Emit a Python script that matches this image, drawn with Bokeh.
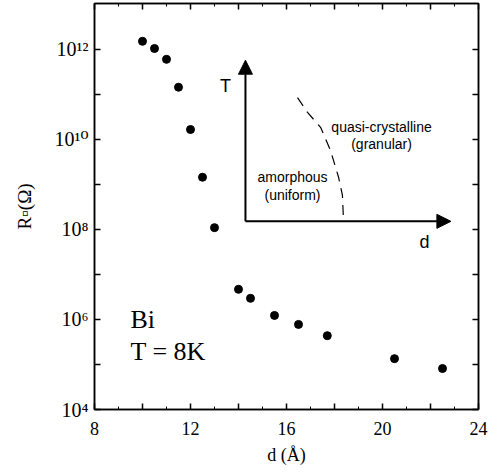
from bokeh.plotting import figure
from bokeh.models import (FixedTicker, LinearAxis, LogAxis, Label, Arrow, NormalHead,
                          ColumnDataSource)
from bokeh.embed import file_html
from bokeh.resources import INLINE

# ---- data: thickness d (Angstrom) and sheet resistance R (Ohm) at T = 8 K ----
d_values = [10.0, 10.5, 11.0, 11.5, 12.0, 12.5, 13.0, 14.0, 14.5, 15.5, 16.5, 17.7, 20.5, 22.5]
logR_values = [12.18, 12.02, 11.78, 11.16, 10.22, 9.16, 8.04, 6.67, 6.47, 6.09, 5.89, 5.64, 5.13, 4.91]
R_values = [10 ** v for v in logR_values]

x_major = [8, 10, 12, 14, 16, 18, 20, 22, 24]
x_minor = [9, 11, 13, 15, 17, 19, 21, 23]
x_labels = {8: "8", 12: "12", 16: "16", 20: "20", 24: "24"}
y_exps = [4, 5, 6, 7, 8, 9, 10, 11, 12]
y_label_exps = {4: "10⁴", 6: "10⁶", 8: "10⁸", 10: "10¹⁰", 12: "10¹²"}

# inset schematic (phase diagram sketch), in chart data units
inset_origin = (14.29, 10 ** 8.18)
inset_T_tip = (14.29, 10 ** 11.76)
inset_d_tip = (22.85, 10 ** 8.18)
boundary_x = [16.46, 16.875, 17.42, 17.83, 18.17, 18.33, 18.375]
boundary_logy = [10.93, 10.6, 10.27, 9.76, 9.16, 8.76, 8.2]

SERIF = "Liberation Serif"
SERIF_SUP = "Liberation Serif, DejaVu Serif"
SANS = "Liberation Sans"

p = figure(width=500, height=474, y_axis_type="log",
           x_range=(8, 24), y_range=(1e4, 10 ** 13.02),
           output_backend="svg", toolbar_location=None,
           min_border_left=94, min_border_right=22, min_border_top=3, min_border_bottom=65)
p.xgrid.visible = False
p.ygrid.visible = False
p.outline_line_color = "black"
p.outline_line_width = 1.5
p.background_fill_color = "white"
p.border_fill_color = "white"

xt = FixedTicker(ticks=x_major, minor_ticks=x_minor)
yt = FixedTicker(ticks=[10 ** e for e in y_exps], minor_ticks=[])

def style_axis(ax):
    ax.axis_line_color = "black"
    ax.axis_line_width = 1.5
    ax.major_tick_in = 6
    ax.major_tick_out = 0
    ax.minor_tick_in = 3
    ax.minor_tick_out = 0
    ax.major_tick_line_width = 1.5
    ax.minor_tick_line_width = 1
    ax.major_tick_line_color = "black"
    ax.minor_tick_line_color = "black"
    ax.major_label_text_font = SERIF
    ax.major_label_text_font_size = "18px"
    ax.major_label_text_color = "black"

xa = p.xaxis[0]
xa.ticker = xt
xa.major_label_overrides = {v: x_labels.get(v, "") for v in x_major}
style_axis(xa)
xa.major_label_standoff = 12
xa.axis_label = "d (Å)"
xa.axis_label_text_font = SERIF
xa.axis_label_text_font_size = "18px"
xa.axis_label_text_font_style = "normal"
xa.axis_label_text_color = "black"
xa.axis_label_standoff = 7

ya = p.yaxis[0]
ya.ticker = yt
ya.major_label_overrides = {10 ** e: y_label_exps.get(e, "") for e in y_exps}
style_axis(ya)
ya.major_label_text_font = SERIF_SUP
ya.major_label_text_font_size = "20px"
ya.major_label_standoff = 6
ya.axis_label = "R▫(Ω)"
ya.axis_label_text_font = SERIF_SUP
ya.axis_label_text_font_size = "19px"
ya.axis_label_text_font_style = "normal"
ya.axis_label_text_color = "black"
ya.axis_label_standoff = 16

top = LinearAxis(ticker=xt)
style_axis(top)
top.major_label_overrides = {v: "" for v in x_major}
top.major_label_standoff = 0
p.add_layout(top, "above")
right = LogAxis(ticker=yt)
style_axis(right)
right.major_label_overrides = {10 ** e: "" for e in y_exps}
right.major_label_standoff = 0
p.add_layout(right, "right")

# data points
src = ColumnDataSource(dict(d=d_values, R=R_values))
p.scatter("d", "R", source=src, size=8, color="black")

# text block
p.add_layout(Label(x=9.5, y=10 ** 6.0, text="Bi", text_font=SERIF,
                   text_font_size="26px", text_baseline="alphabetic", text_color="black"))
p.add_layout(Label(x=9.5, y=10 ** 5.28, text="T = 8K", text_font=SERIF,
                   text_font_size="26px", text_baseline="alphabetic", text_color="black"))

# inset schematic
for tip in (inset_T_tip, inset_d_tip):
    p.add_layout(Arrow(end=NormalHead(size=14, fill_color="black", line_color="black"),
                       x_start=inset_origin[0], y_start=inset_origin[1],
                       x_end=tip[0], y_end=tip[1], line_width=2, line_color="black"))
p.line(boundary_x, [10 ** v for v in boundary_logy], line_dash="10 7", line_width=1.2,
       line_color="black")

def sans_label(x, ly, text, size, align="center"):
    p.add_layout(Label(x=x, y=10 ** ly, text=text, text_font=SANS,
                       text_font_size=size, text_align=align, text_baseline="middle",
                       text_color="black"))

sans_label(13.46, 11.18, "T", "18px")
sans_label(21.75, 7.73, "d", "18px")
sans_label(19.96, 10.27, "quasi-crystalline", "14px")
sans_label(19.96, 9.89, "(granular)", "14px")
sans_label(16.25, 9.16, "amorphous", "14px")
sans_label(16.25, 8.76, "(uniform)", "14px")

open("out.html", "w").write(file_html(p, INLINE))
